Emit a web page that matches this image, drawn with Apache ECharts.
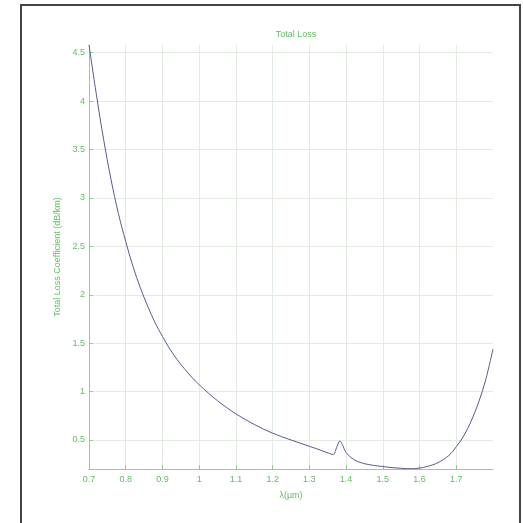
<!DOCTYPE html>
<html>
<head>
<meta charset="utf-8">
<script src="https://cdn.jsdelivr.net/npm/echarts@6/dist/echarts.min.js"></script>
<style>html,body{margin:0;padding:0;background:#fff}#c{width:523px;height:523px}</style>
</head>
<body>
<div id="c"></div>
<script>
var wavelengths = [0.70,0.72,0.74,0.76,0.78,0.80,0.82,0.84,0.86,0.88,0.90,0.92,0.94,0.96,0.98,1.00,1.05,1.10,1.15,1.20,1.25,1.30,1.33,1.355,1.365,1.375,1.383,1.39,1.40,1.42,1.45,1.50,1.55,1.58,1.60,1.62,1.65,1.68,1.70,1.72,1.74,1.76,1.78,1.80];
var totalLoss = [4.58,4.07,3.60,3.19,2.84,2.55,2.29,2.07,1.88,1.71,1.57,1.44,1.33,1.235,1.148,1.07,0.905,0.77,0.66,0.57,0.50,0.435,0.395,0.36,0.35,0.43,0.49,0.45,0.37,0.30,0.255,0.225,0.207,0.203,0.21,0.225,0.265,0.34,0.43,0.54,0.69,0.88,1.12,1.44];
var xTicks = [0.7,0.8,0.9,1.0,1.1,1.2,1.3,1.4,1.5,1.6,1.7];
var xTickLabels = ['0.7','0.8','0.9','1','1.1','1.2','1.3','1.4','1.5','1.6','1.7'];
var yTicks = [0.5,1,1.5,2,2.5,3,3.5,4,4.5];
var yTickLabels = ['0.5','1','1.5','2','2.5','3','3.5','4','4.5'];

var green = '#5fbf5f';
var axisGreen = '#8fd08f';
var gridColor = '#e3ece3';
var font = 'Liberation Sans, Arial, sans-serif';

var data = wavelengths.map(function(w,i){return [w,totalLoss[i]];});
var gridLines = [];
xTicks.forEach(function(v){ if (v > 0.71) gridLines.push({xAxis:v}); });
yTicks.forEach(function(v){ gridLines.push({yAxis:v}); });

var chart = echarts.init(document.getElementById('c'), null, {renderer:'canvas'});
chart.setOption({
  animation:false,
  backgroundColor:'#fff',
  graphic:[{type:'rect', shape:{x:21,y:5,width:499,height:530}, style:{fill:'none', stroke:'#444', lineWidth:2}, silent:true}],
  title:{text:'Total Loss', left:291, top:25, textAlign:'center',
    textStyle:{color:green, fontSize:9, fontWeight:'normal', fontFamily:font}},
  grid:{left:89, right:30, top:45, bottom:54, containLabel:false},
  xAxis:{type:'value', min:0.7, max:1.8,
    name:'λ(µm)', nameLocation:'middle', nameGap:22,
    nameTextStyle:{color:green, fontSize:9, fontFamily:font},
    axisLine:{show:true, lineStyle:{color:axisGreen, width:1}},
    axisTick:{show:true, inside:true, length:4, customValues:xTicks, lineStyle:{color:axisGreen}},
    axisLabel:{customValues:xTicks, color:green, fontSize:9, fontFamily:font, margin:6,
      formatter:function(v){var i=xTicks.findIndex(function(t){return Math.abs(t-v)<1e-6;}); return i>=0?xTickLabels[i]:'';}},
    splitLine:{show:false}},
  yAxis:{type:'value', min:0.2, max:4.58,
    name:'Total Loss Coefficient (dB/km)', nameLocation:'middle', nameGap:20,
    nameTextStyle:{color:green, fontSize:9, fontFamily:font},
    axisLine:{show:true, lineStyle:{color:axisGreen, width:1}},
    axisTick:{show:true, inside:true, length:4, customValues:yTicks, lineStyle:{color:axisGreen}},
    axisLabel:{customValues:yTicks, color:green, fontSize:9, fontFamily:font, margin:4,
      formatter:function(v){var i=yTicks.findIndex(function(t){return Math.abs(t-v)<1e-6;}); return i>=0?yTickLabels[i]:'';}},
    splitLine:{show:false}},
  series:[{type:'line', data:data, showSymbol:false, smooth:0.35,
    lineStyle:{color:'#5a5a8c', width:1},
    markLine:{silent:true, symbol:'none', label:{show:false},
      lineStyle:{color:gridColor, type:'solid', width:1}, data:gridLines, z:-1}}]
});
</script>
</body>
</html>
